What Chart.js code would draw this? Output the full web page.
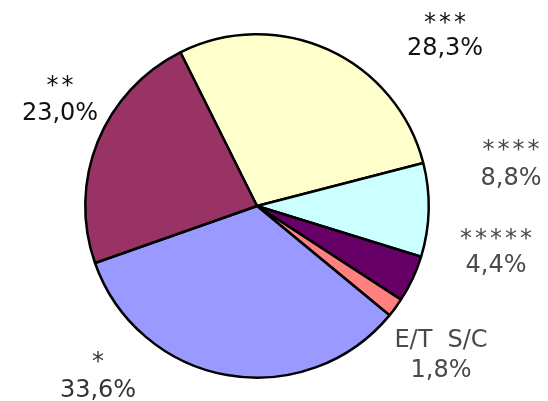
<!DOCTYPE html>
<html>
<head>
<meta charset="utf-8">
<script src="https://cdn.jsdelivr.net/npm/chart.js@4/dist/chart.umd.min.js"></script>
<style>
html,body{margin:0;padding:0;background:#fff;}
canvas{display:block;}
</style>
</head>
<body>
<canvas id="c" width="548" height="401"></canvas>
<script>
const categories = ["***", "****", "*****", "E/T  S/C", "*", "**"];
const values = [28.3, 8.8, 4.4, 1.8, 33.6, 23.0];
const colors = ["#FFFFCC", "#CCFFFF", "#660066", "#FF8080", "#9999FF", "#993366"];

// label layout: offsets from pie centre (name line baseline, value line baseline)
const labelLayout = [
  {dx: 188, dy1: -176, dy2: -151, color: "#111111"},
  {dx: 254, dy1: -49, dy2: -21, color: "#4a4a4a"},
  {dx: 239, dy1: 40, dy2: 66, color: "#4a4a4a"},
  {dx: 184, dy1: 141, dy2: 171, color: "#4a4a4a"},
  {dx: -159, dy1: 163, dy2: 191, color: "#333333"},
  {dx: -197, dy1: -113, dy2: -86, color: "#111111"}
];

const labelPlugin = {
  id: 'labels',
  afterDraw(chart) {
    const ctx = chart.ctx;
    const meta = chart.getDatasetMeta(0);
    const cx = meta.data[0].x, cy = meta.data[0].y;
    ctx.save();
    ctx.font = '24px "DejaVu Sans", Verdana, sans-serif';
    ctx.textAlign = 'center';
    ctx.textBaseline = 'alphabetic';
    categories.forEach((cat, i) => {
      const L = labelLayout[i];
      ctx.fillStyle = L.color;
      const isStars = /^\*+$/.test(cat);
      ctx.letterSpacing = isStars ? '3px' : '0px';
      ctx.fillText(cat, cx + L.dx + (isStars ? 1.5 : 0), cy + L.dy1);
      ctx.letterSpacing = '0px';
      ctx.fillText(values[i].toFixed(1).replace('.', ',') + '%', cx + L.dx, cy + L.dy2);
    });
    ctx.restore();
  }
};

new Chart(document.getElementById('c'), {
  type: 'pie',
  data: {
    labels: categories,
    datasets: [{
      data: values,
      backgroundColor: colors,
      borderColor: '#000000',
      borderWidth: 2.5,
      hoverOffset: 0
    }]
  },
  options: {
    responsive: false,
    animation: false,
    rotation: -26.5,
    layout: {padding: {left: 84, right: 118, top: 33, bottom: 22}},
    plugins: {legend: {display: false}, tooltip: {enabled: false}}
  },
  plugins: [labelPlugin]
});
</script>
</body>
</html>
